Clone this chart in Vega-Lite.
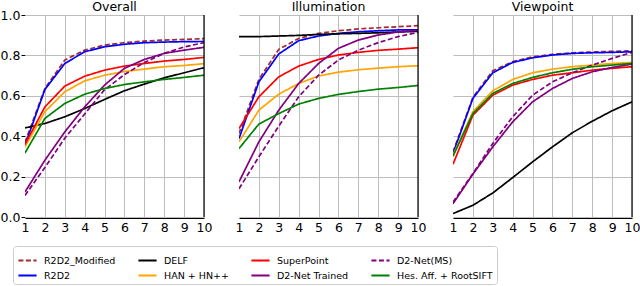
{
"$schema":"https://vega.github.io/schema/vega-lite/v6.json",
"padding":{"left":0,"top":0,"right":5,"bottom":0},
"background":"white",
"data":{"values":[
{"p":"Overall","m":"R2D2_Modified","k":1,"v":0.37},{"p":"Overall","m":"R2D2_Modified","k":2,"v":0.636},{"p":"Overall","m":"R2D2_Modified","k":3,"v":0.777},{"p":"Overall","m":"R2D2_Modified","k":4,"v":0.826},{"p":"Overall","m":"R2D2_Modified","k":5,"v":0.851},{"p":"Overall","m":"R2D2_Modified","k":6,"v":0.863},{"p":"Overall","m":"R2D2_Modified","k":7,"v":0.871},{"p":"Overall","m":"R2D2_Modified","k":8,"v":0.876},{"p":"Overall","m":"R2D2_Modified","k":9,"v":0.879},{"p":"Overall","m":"R2D2_Modified","k":10,"v":0.883},
{"p":"Overall","m":"R2D2","k":1,"v":0.355},{"p":"Overall","m":"R2D2","k":2,"v":0.631},{"p":"Overall","m":"R2D2","k":3,"v":0.76},{"p":"Overall","m":"R2D2","k":4,"v":0.818},{"p":"Overall","m":"R2D2","k":5,"v":0.843},{"p":"Overall","m":"R2D2","k":6,"v":0.855},{"p":"Overall","m":"R2D2","k":7,"v":0.863},{"p":"Overall","m":"R2D2","k":8,"v":0.866},{"p":"Overall","m":"R2D2","k":9,"v":0.868},{"p":"Overall","m":"R2D2","k":10,"v":0.869},
{"p":"Overall","m":"DELF","k":1,"v":0.441},{"p":"Overall","m":"DELF","k":2,"v":0.463},{"p":"Overall","m":"DELF","k":3,"v":0.496},{"p":"Overall","m":"DELF","k":4,"v":0.537},{"p":"Overall","m":"DELF","k":5,"v":0.582},{"p":"Overall","m":"DELF","k":6,"v":0.625},{"p":"Overall","m":"DELF","k":7,"v":0.658},{"p":"Overall","m":"DELF","k":8,"v":0.689},{"p":"Overall","m":"DELF","k":9,"v":0.714},{"p":"Overall","m":"DELF","k":10,"v":0.739},
{"p":"Overall","m":"HAN + HN++","k":1,"v":0.347},{"p":"Overall","m":"HAN + HN++","k":2,"v":0.521},{"p":"Overall","m":"HAN + HN++","k":3,"v":0.62},{"p":"Overall","m":"HAN + HN++","k":4,"v":0.674},{"p":"Overall","m":"HAN + HN++","k":5,"v":0.702},{"p":"Overall","m":"HAN + HN++","k":6,"v":0.72},{"p":"Overall","m":"HAN + HN++","k":7,"v":0.732},{"p":"Overall","m":"HAN + HN++","k":8,"v":0.744},{"p":"Overall","m":"HAN + HN++","k":9,"v":0.75},{"p":"Overall","m":"HAN + HN++","k":10,"v":0.759},
{"p":"Overall","m":"SuperPoint","k":1,"v":0.36},{"p":"Overall","m":"SuperPoint","k":2,"v":0.545},{"p":"Overall","m":"SuperPoint","k":3,"v":0.648},{"p":"Overall","m":"SuperPoint","k":4,"v":0.697},{"p":"Overall","m":"SuperPoint","k":5,"v":0.727},{"p":"Overall","m":"SuperPoint","k":6,"v":0.747},{"p":"Overall","m":"SuperPoint","k":7,"v":0.76},{"p":"Overall","m":"SuperPoint","k":8,"v":0.772},{"p":"Overall","m":"SuperPoint","k":9,"v":0.78},{"p":"Overall","m":"SuperPoint","k":10,"v":0.79},
{"p":"Overall","m":"D2-Net Trained","k":1,"v":0.124},{"p":"Overall","m":"D2-Net Trained","k":2,"v":0.281},{"p":"Overall","m":"D2-Net Trained","k":3,"v":0.421},{"p":"Overall","m":"D2-Net Trained","k":4,"v":0.545},{"p":"Overall","m":"D2-Net Trained","k":5,"v":0.653},{"p":"Overall","m":"D2-Net Trained","k":6,"v":0.736},{"p":"Overall","m":"D2-Net Trained","k":7,"v":0.78},{"p":"Overall","m":"D2-Net Trained","k":8,"v":0.81},{"p":"Overall","m":"D2-Net Trained","k":9,"v":0.826},{"p":"Overall","m":"D2-Net Trained","k":10,"v":0.84},
{"p":"Overall","m":"D2-Net(MS)","k":1,"v":0.107},{"p":"Overall","m":"D2-Net(MS)","k":2,"v":0.245},{"p":"Overall","m":"D2-Net(MS)","k":3,"v":0.39},{"p":"Overall","m":"D2-Net(MS)","k":4,"v":0.51},{"p":"Overall","m":"D2-Net(MS)","k":5,"v":0.63},{"p":"Overall","m":"D2-Net(MS)","k":6,"v":0.705},{"p":"Overall","m":"D2-Net(MS)","k":7,"v":0.765},{"p":"Overall","m":"D2-Net(MS)","k":8,"v":0.81},{"p":"Overall","m":"D2-Net(MS)","k":9,"v":0.842},{"p":"Overall","m":"D2-Net(MS)","k":10,"v":0.863},
{"p":"Overall","m":"Hes. Aff. + RootSIFT","k":1,"v":0.317},{"p":"Overall","m":"Hes. Aff. + RootSIFT","k":2,"v":0.488},{"p":"Overall","m":"Hes. Aff. + RootSIFT","k":3,"v":0.562},{"p":"Overall","m":"Hes. Aff. + RootSIFT","k":4,"v":0.608},{"p":"Overall","m":"Hes. Aff. + RootSIFT","k":5,"v":0.636},{"p":"Overall","m":"Hes. Aff. + RootSIFT","k":6,"v":0.656},{"p":"Overall","m":"Hes. Aff. + RootSIFT","k":7,"v":0.669},{"p":"Overall","m":"Hes. Aff. + RootSIFT","k":8,"v":0.681},{"p":"Overall","m":"Hes. Aff. + RootSIFT","k":9,"v":0.691},{"p":"Overall","m":"Hes. Aff. + RootSIFT","k":10,"v":0.702},
{"p":"Illumination","m":"R2D2_Modified","k":1,"v":0.413},{"p":"Illumination","m":"R2D2_Modified","k":2,"v":0.681},{"p":"Illumination","m":"R2D2_Modified","k":3,"v":0.83},{"p":"Illumination","m":"R2D2_Modified","k":4,"v":0.884},{"p":"Illumination","m":"R2D2_Modified","k":5,"v":0.909},{"p":"Illumination","m":"R2D2_Modified","k":6,"v":0.922},{"p":"Illumination","m":"R2D2_Modified","k":7,"v":0.931},{"p":"Illumination","m":"R2D2_Modified","k":8,"v":0.937},{"p":"Illumination","m":"R2D2_Modified","k":9,"v":0.942},{"p":"Illumination","m":"R2D2_Modified","k":10,"v":0.947},
{"p":"Illumination","m":"R2D2","k":1,"v":0.388},{"p":"Illumination","m":"R2D2","k":2,"v":0.669},{"p":"Illumination","m":"R2D2","k":3,"v":0.807},{"p":"Illumination","m":"R2D2","k":4,"v":0.873},{"p":"Illumination","m":"R2D2","k":5,"v":0.896},{"p":"Illumination","m":"R2D2","k":6,"v":0.909},{"p":"Illumination","m":"R2D2","k":7,"v":0.917},{"p":"Illumination","m":"R2D2","k":8,"v":0.922},{"p":"Illumination","m":"R2D2","k":9,"v":0.926},{"p":"Illumination","m":"R2D2","k":10,"v":0.927},
{"p":"Illumination","m":"DELF","k":1,"v":0.893},{"p":"Illumination","m":"DELF","k":2,"v":0.893},{"p":"Illumination","m":"DELF","k":3,"v":0.896},{"p":"Illumination","m":"DELF","k":4,"v":0.899},{"p":"Illumination","m":"DELF","k":5,"v":0.904},{"p":"Illumination","m":"DELF","k":6,"v":0.907},{"p":"Illumination","m":"DELF","k":7,"v":0.909},{"p":"Illumination","m":"DELF","k":8,"v":0.912},{"p":"Illumination","m":"DELF","k":9,"v":0.916},{"p":"Illumination","m":"DELF","k":10,"v":0.919},
{"p":"Illumination","m":"HAN + HN++","k":1,"v":0.372},{"p":"Illumination","m":"HAN + HN++","k":2,"v":0.529},{"p":"Illumination","m":"HAN + HN++","k":3,"v":0.608},{"p":"Illumination","m":"HAN + HN++","k":4,"v":0.661},{"p":"Illumination","m":"HAN + HN++","k":5,"v":0.698},{"p":"Illumination","m":"HAN + HN++","k":6,"v":0.717},{"p":"Illumination","m":"HAN + HN++","k":7,"v":0.729},{"p":"Illumination","m":"HAN + HN++","k":8,"v":0.737},{"p":"Illumination","m":"HAN + HN++","k":9,"v":0.744},{"p":"Illumination","m":"HAN + HN++","k":10,"v":0.749},
{"p":"Illumination","m":"SuperPoint","k":1,"v":0.438},{"p":"Illumination","m":"SuperPoint","k":2,"v":0.595},{"p":"Illumination","m":"SuperPoint","k":3,"v":0.694},{"p":"Illumination","m":"SuperPoint","k":4,"v":0.747},{"p":"Illumination","m":"SuperPoint","k":5,"v":0.78},{"p":"Illumination","m":"SuperPoint","k":6,"v":0.802},{"p":"Illumination","m":"SuperPoint","k":7,"v":0.815},{"p":"Illumination","m":"SuperPoint","k":8,"v":0.825},{"p":"Illumination","m":"SuperPoint","k":9,"v":0.831},{"p":"Illumination","m":"SuperPoint","k":10,"v":0.838},
{"p":"Illumination","m":"D2-Net Trained","k":1,"v":0.174},{"p":"Illumination","m":"D2-Net Trained","k":2,"v":0.372},{"p":"Illumination","m":"D2-Net Trained","k":3,"v":0.529},{"p":"Illumination","m":"D2-Net Trained","k":4,"v":0.661},{"p":"Illumination","m":"D2-Net Trained","k":5,"v":0.76},{"p":"Illumination","m":"D2-Net Trained","k":6,"v":0.835},{"p":"Illumination","m":"D2-Net Trained","k":7,"v":0.876},{"p":"Illumination","m":"D2-Net Trained","k":8,"v":0.901},{"p":"Illumination","m":"D2-Net Trained","k":9,"v":0.916},{"p":"Illumination","m":"D2-Net Trained","k":10,"v":0.924},
{"p":"Illumination","m":"D2-Net(MS)","k":1,"v":0.14},{"p":"Illumination","m":"D2-Net(MS)","k":2,"v":0.298},{"p":"Illumination","m":"D2-Net(MS)","k":3,"v":0.45},{"p":"Illumination","m":"D2-Net(MS)","k":4,"v":0.595},{"p":"Illumination","m":"D2-Net(MS)","k":5,"v":0.702},{"p":"Illumination","m":"D2-Net(MS)","k":6,"v":0.777},{"p":"Illumination","m":"D2-Net(MS)","k":7,"v":0.826},{"p":"Illumination","m":"D2-Net(MS)","k":8,"v":0.863},{"p":"Illumination","m":"D2-Net(MS)","k":9,"v":0.893},{"p":"Illumination","m":"D2-Net(MS)","k":10,"v":0.914},
{"p":"Illumination","m":"Hes. Aff. + RootSIFT","k":1,"v":0.339},{"p":"Illumination","m":"Hes. Aff. + RootSIFT","k":2,"v":0.46},{"p":"Illumination","m":"Hes. Aff. + RootSIFT","k":3,"v":0.512},{"p":"Illumination","m":"Hes. Aff. + RootSIFT","k":4,"v":0.559},{"p":"Illumination","m":"Hes. Aff. + RootSIFT","k":5,"v":0.587},{"p":"Illumination","m":"Hes. Aff. + RootSIFT","k":6,"v":0.607},{"p":"Illumination","m":"Hes. Aff. + RootSIFT","k":7,"v":0.621},{"p":"Illumination","m":"Hes. Aff. + RootSIFT","k":8,"v":0.633},{"p":"Illumination","m":"Hes. Aff. + RootSIFT","k":9,"v":0.641},{"p":"Illumination","m":"Hes. Aff. + RootSIFT","k":10,"v":0.651},
{"p":"Viewpoint","m":"R2D2_Modified","k":1,"v":0.322},{"p":"Viewpoint","m":"R2D2_Modified","k":2,"v":0.592},{"p":"Viewpoint","m":"R2D2_Modified","k":3,"v":0.724},{"p":"Viewpoint","m":"R2D2_Modified","k":4,"v":0.769},{"p":"Viewpoint","m":"R2D2_Modified","k":5,"v":0.793},{"p":"Viewpoint","m":"R2D2_Modified","k":6,"v":0.805},{"p":"Viewpoint","m":"R2D2_Modified","k":7,"v":0.813},{"p":"Viewpoint","m":"R2D2_Modified","k":8,"v":0.817},{"p":"Viewpoint","m":"R2D2_Modified","k":9,"v":0.82},{"p":"Viewpoint","m":"R2D2_Modified","k":10,"v":0.823},
{"p":"Viewpoint","m":"R2D2","k":1,"v":0.314},{"p":"Viewpoint","m":"R2D2","k":2,"v":0.587},{"p":"Viewpoint","m":"R2D2","k":3,"v":0.714},{"p":"Viewpoint","m":"R2D2","k":4,"v":0.765},{"p":"Viewpoint","m":"R2D2","k":5,"v":0.788},{"p":"Viewpoint","m":"R2D2","k":6,"v":0.802},{"p":"Viewpoint","m":"R2D2","k":7,"v":0.81},{"p":"Viewpoint","m":"R2D2","k":8,"v":0.813},{"p":"Viewpoint","m":"R2D2","k":9,"v":0.815},{"p":"Viewpoint","m":"R2D2","k":10,"v":0.818},
{"p":"Viewpoint","m":"DELF","k":1,"v":0.017},{"p":"Viewpoint","m":"DELF","k":2,"v":0.058},{"p":"Viewpoint","m":"DELF","k":3,"v":0.119},{"p":"Viewpoint","m":"DELF","k":4,"v":0.195},{"p":"Viewpoint","m":"DELF","k":5,"v":0.273},{"p":"Viewpoint","m":"DELF","k":6,"v":0.347},{"p":"Viewpoint","m":"DELF","k":7,"v":0.417},{"p":"Viewpoint","m":"DELF","k":8,"v":0.474},{"p":"Viewpoint","m":"DELF","k":9,"v":0.526},{"p":"Viewpoint","m":"DELF","k":10,"v":0.57},
{"p":"Viewpoint","m":"HAN + HN++","k":1,"v":0.306},{"p":"Viewpoint","m":"HAN + HN++","k":2,"v":0.521},{"p":"Viewpoint","m":"HAN + HN++","k":3,"v":0.625},{"p":"Viewpoint","m":"HAN + HN++","k":4,"v":0.681},{"p":"Viewpoint","m":"HAN + HN++","k":5,"v":0.714},{"p":"Viewpoint","m":"HAN + HN++","k":6,"v":0.732},{"p":"Viewpoint","m":"HAN + HN++","k":7,"v":0.744},{"p":"Viewpoint","m":"HAN + HN++","k":8,"v":0.752},{"p":"Viewpoint","m":"HAN + HN++","k":9,"v":0.76},{"p":"Viewpoint","m":"HAN + HN++","k":10,"v":0.765},
{"p":"Viewpoint","m":"SuperPoint","k":1,"v":0.261},{"p":"Viewpoint","m":"SuperPoint","k":2,"v":0.504},{"p":"Viewpoint","m":"SuperPoint","k":3,"v":0.603},{"p":"Viewpoint","m":"SuperPoint","k":4,"v":0.653},{"p":"Viewpoint","m":"SuperPoint","k":5,"v":0.681},{"p":"Viewpoint","m":"SuperPoint","k":6,"v":0.702},{"p":"Viewpoint","m":"SuperPoint","k":7,"v":0.714},{"p":"Viewpoint","m":"SuperPoint","k":8,"v":0.727},{"p":"Viewpoint","m":"SuperPoint","k":9,"v":0.736},{"p":"Viewpoint","m":"SuperPoint","k":10,"v":0.744},
{"p":"Viewpoint","m":"D2-Net Trained","k":1,"v":0.066},{"p":"Viewpoint","m":"D2-Net Trained","k":2,"v":0.212},{"p":"Viewpoint","m":"D2-Net Trained","k":3,"v":0.347},{"p":"Viewpoint","m":"D2-Net Trained","k":4,"v":0.471},{"p":"Viewpoint","m":"D2-Net Trained","k":5,"v":0.57},{"p":"Viewpoint","m":"D2-Net Trained","k":6,"v":0.636},{"p":"Viewpoint","m":"D2-Net Trained","k":7,"v":0.686},{"p":"Viewpoint","m":"D2-Net Trained","k":8,"v":0.719},{"p":"Viewpoint","m":"D2-Net Trained","k":9,"v":0.74},{"p":"Viewpoint","m":"D2-Net Trained","k":10,"v":0.757},
{"p":"Viewpoint","m":"D2-Net(MS)","k":1,"v":0.074},{"p":"Viewpoint","m":"D2-Net(MS)","k":2,"v":0.215},{"p":"Viewpoint","m":"D2-Net(MS)","k":3,"v":0.364},{"p":"Viewpoint","m":"D2-Net(MS)","k":4,"v":0.496},{"p":"Viewpoint","m":"D2-Net(MS)","k":5,"v":0.603},{"p":"Viewpoint","m":"D2-Net(MS)","k":6,"v":0.669},{"p":"Viewpoint","m":"D2-Net(MS)","k":7,"v":0.714},{"p":"Viewpoint","m":"D2-Net(MS)","k":8,"v":0.752},{"p":"Viewpoint","m":"D2-Net(MS)","k":9,"v":0.785},{"p":"Viewpoint","m":"D2-Net(MS)","k":10,"v":0.815},
{"p":"Viewpoint","m":"Hes. Aff. + RootSIFT","k":1,"v":0.301},{"p":"Viewpoint","m":"Hes. Aff. + RootSIFT","k":2,"v":0.512},{"p":"Viewpoint","m":"Hes. Aff. + RootSIFT","k":3,"v":0.612},{"p":"Viewpoint","m":"Hes. Aff. + RootSIFT","k":4,"v":0.661},{"p":"Viewpoint","m":"Hes. Aff. + RootSIFT","k":5,"v":0.691},{"p":"Viewpoint","m":"Hes. Aff. + RootSIFT","k":6,"v":0.714},{"p":"Viewpoint","m":"Hes. Aff. + RootSIFT","k":7,"v":0.731},{"p":"Viewpoint","m":"Hes. Aff. + RootSIFT","k":8,"v":0.744},{"p":"Viewpoint","m":"Hes. Aff. + RootSIFT","k":9,"v":0.752},{"p":"Viewpoint","m":"Hes. Aff. + RootSIFT","k":10,"v":0.76}
]},
"facet":{"column":{"field":"p","type":"nominal","sort":["Overall","Illumination","Viewpoint"],"header":{"title":null,"labelFontSize":12.5,"labelFont":"DejaVu Sans","labelColor":"black","labelPadding":1}}},
"spacing":34,
"spec":{
"width":179,"height":202,
"layer":[
{"mark":{"type":"line","strokeWidth":1.7,"clip":true},
"encoding":{
"x":{"field":"k","type":"quantitative","scale":{"domain":[1,10],"nice":false},"axis":{"values":[1,2,3,4,5,6,7,8,9,10],"tickCount":10,"format":"d","title":null,"ticks":false,"labelPadding":3,"labelOverlap":false,"labelBound":false,"labelFlush":false,"domainColor":"black","domainWidth":1.2,"gridColor":{"condition":{"test":"datum.value === 1","value":"transparent"},"value":"#bdbdbd"}}},
"y":{"field":"v","type":"quantitative","scale":{"domain":[0,1],"nice":false},"axis":{"values":[0,0.2,0.4,0.6,0.8,1.0],"tickCount":6,"format":".1f","title":null,"domain":false,"tickSize":4,"tickColor":"black","labelPadding":1,"labelOverlap":false,"labelFlush":false,"gridColor":"#bdbdbd"}},
"color":{"field":"m","type":"nominal","scale":{"domain":["R2D2_Modified","R2D2","DELF","HAN + HN++","SuperPoint","D2-Net Trained","D2-Net(MS)","Hes. Aff. + RootSIFT"],"range":["#a52a2a","#0000ff","#000000","#ffa500","#ff0000","#800080","#800080","#008000"]},
"legend":{"title":null,"orient":"none","legendX":-12,"legendY":231,"columns":4,"symbolType":"stroke","symbolSize":330,"symbolStrokeWidth":2,"labelFontSize":9.5,"labelFont":"DejaVu Sans","labelColor":"black","labelOffset":6,"columnPadding":18,"rowPadding":0,"padding":4,"strokeColor":"#cccccc","fillColor":"white","cornerRadius":3}},
"strokeDash":{"field":"m","type":"nominal","scale":{"domain":["R2D2_Modified","R2D2","DELF","HAN + HN++","SuperPoint","D2-Net Trained","D2-Net(MS)","Hes. Aff. + RootSIFT"],"range":[[5,2.5],[1,0],[1,0],[1,0],[1,0],[1,0],[5,2.5],[1,0]]},
"legend":{"title":null,"orient":"none","legendX":-12,"legendY":231,"columns":4,"symbolType":"stroke","symbolSize":330,"symbolStrokeWidth":2,"labelFontSize":9.5,"labelFont":"DejaVu Sans","labelColor":"black","labelOffset":6,"columnPadding":18,"rowPadding":0,"padding":4,"strokeColor":"#cccccc","fillColor":"white","cornerRadius":3}}
}},
{"transform":[{"filter":"datum.k == 10 && datum.m == 'R2D2'"}],
"mark":{"type":"rule","color":"black","strokeWidth":1.2},
"encoding":{"x":{"datum":10}}}
]},
"config":{"view":{"stroke":null},"axis":{"labelFont":"DejaVu Sans","labelFontSize":12.5,"labelColor":"black","gridWidth":1}}
}
